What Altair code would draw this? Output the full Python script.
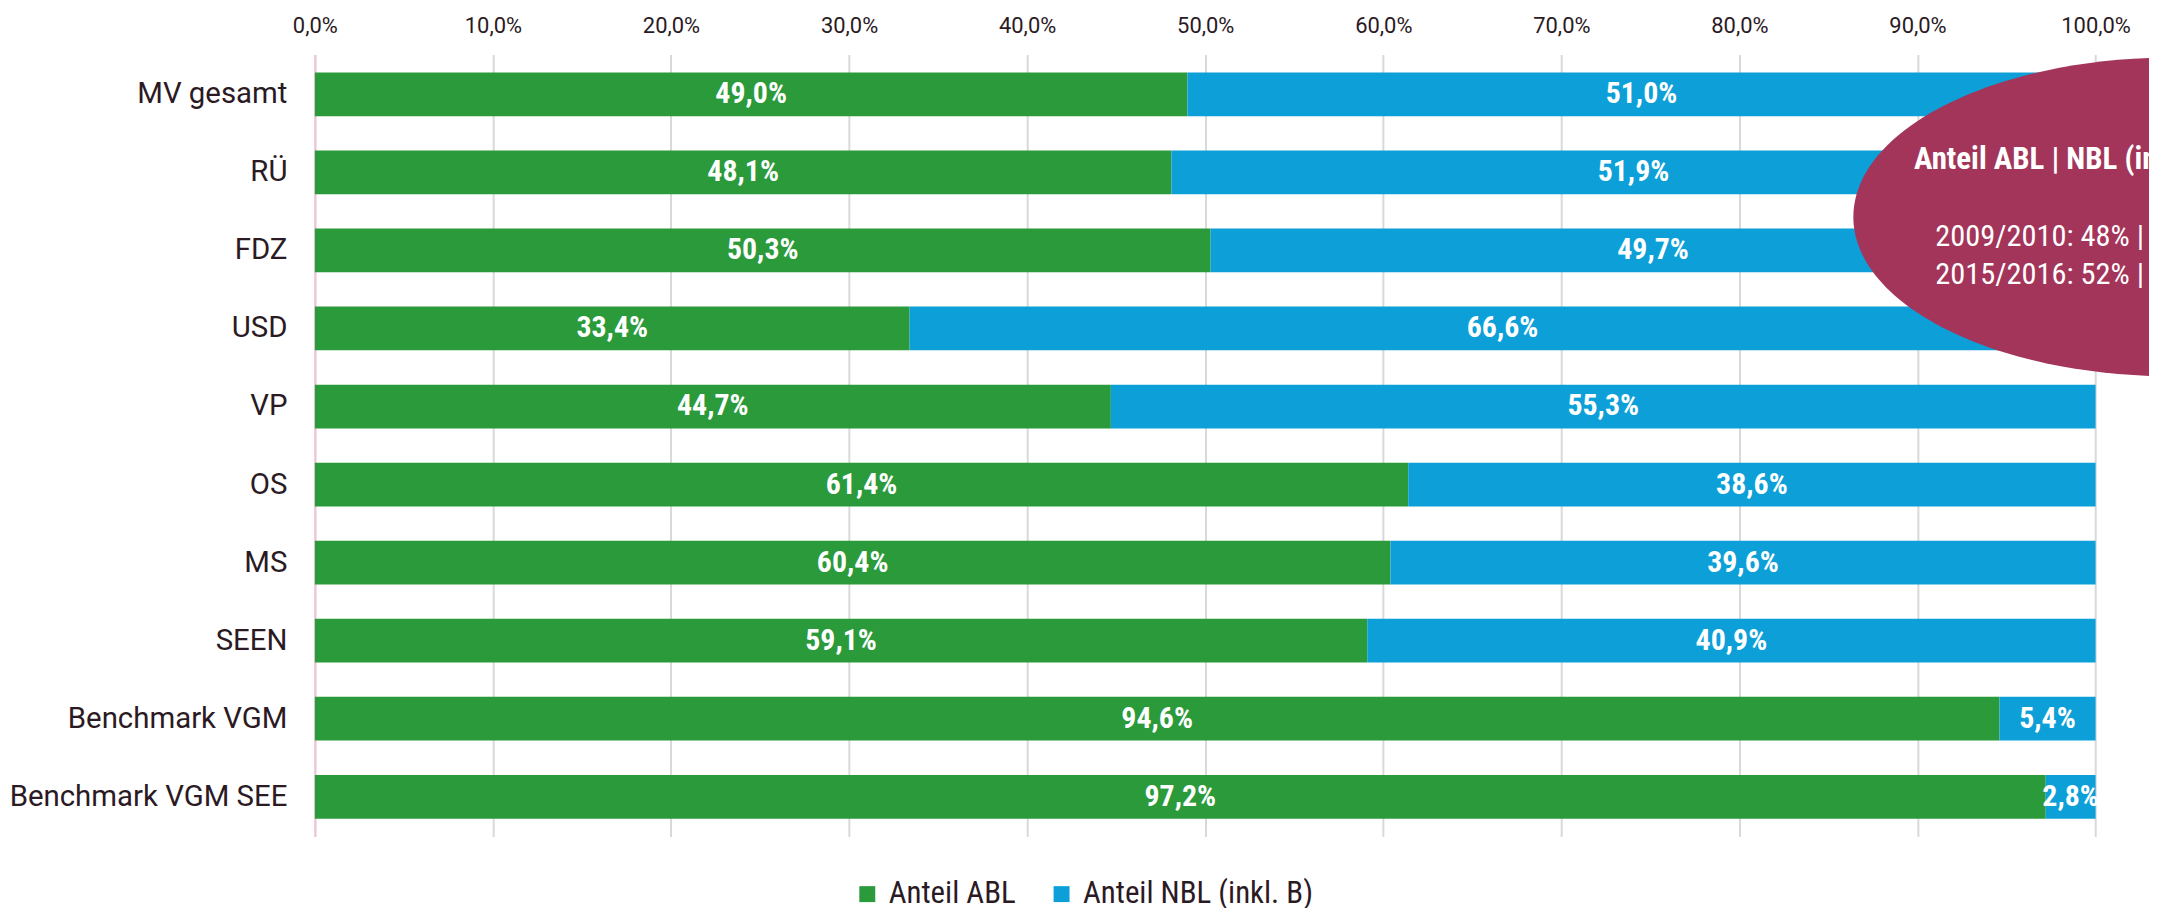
import altair as alt
import pandas as pd

categories = ["MV gesamt", "RÜ", "FDZ", "USD", "VP", "OS", "MS", "SEEN",
              "Benchmark VGM\u00a0", "Benchmark VGM SEE"]
abl = [49.0, 48.1, 50.3, 33.4, 44.7, 61.4, 60.4, 59.1, 94.6, 97.2]
nbl = [51.0, 51.9, 49.7, 66.6, 55.3, 38.6, 39.6, 40.9, 5.4, 2.8]
series = ["Anteil ABL", "Anteil NBL (inkl. B)"]
colors = ["#2a9a3b", "#0da0d8"]
ticks = [0, 10, 20, 30, 40, 50, 60, 70, 80, 90, 100]

note_title = "Anteil ABL | NBL (inkl. B)"
note_lines = ["2009/2010: 48% | 52%", "2015/2016: 52% | 48%"]

rows = []
for c, a, n in zip(categories, abl, nbl):
    rows.append({"cat": c, "series": series[0], "start": 0.0, "end": a,
                 "mid": a / 2, "label": f"{a:.1f}%".replace(".", ",")})
    rows.append({"cat": c, "series": series[1], "start": a, "end": a + n,
                 "mid": a + n / 2, "label": f"{n:.1f}%".replace(".", ",")})
df = pd.DataFrame(rows)

COND = "Roboto Condensed, Liberation Sans Narrow, DejaVu Sans Condensed, Roboto"
TXT = "#2b1a24"

xscale = alt.Scale(domain=[0, 103.0], nice=False, zero=True)
yscale = alt.Scale(domain=categories, paddingInner=0.44, paddingOuter=0.23)

x_axis = alt.Axis(orient="top", values=ticks, title=None, ticks=False, domain=False,
                  labelExpr="replace(format(datum.value, '.1f'), '.', ',') + '%'",
                  labelFontSize=22, labelColor=TXT, labelFont="Roboto",
                  labelFlush=False, labelPadding=17, grid=True,
                  gridColor="#d9d9d9", gridWidth=2)
y_axis = alt.Axis(title=None, ticks=False, domain=True, domainColor="#f2c4da",
                  domainWidth=2, labelFontSize=29.5, labelColor=TXT, labelFont="Roboto",
                  labelPadding=28, labelLimit=500, grid=False)

bars = alt.Chart(df).mark_bar().encode(
    y=alt.Y("cat:N", scale=yscale, axis=y_axis, sort=categories),
    x=alt.X("start:Q", scale=xscale, axis=x_axis),
    x2="end:Q",
    color=alt.Color("series:N", scale=alt.Scale(domain=series, range=colors),
                    legend=alt.Legend(orient="none", legendX=539, legendY=827,
                                      direction="horizontal", title=None,
                                      symbolType="square", symbolSize=256,
                                      symbolStrokeWidth=0, symbolOpacity=1,
                                      labelFontSize=31, labelFont=COND,
                                      labelColor=TXT, labelOffset=6,
                                      labelLimit=600, columnPadding=30)),
)

labels = alt.Chart(df).mark_text(color="white", font=COND, fontWeight="bold",
                                 fontSize=30, align="center", baseline="middle").encode(
    y=alt.Y("cat:N", scale=yscale, sort=categories),
    x=alt.X("mid:Q", scale=xscale),
    text="label:N",
)

ell_df = pd.DataFrame({"x": [104.3]})
ellipse = alt.Chart(ell_df).mark_point(
    filled=True, opacity=1, color="#a3355a", clip=True, size=409600,
    shape="M -1 0 A 1 0.5 0 1 1 1 0 A 1 0.5 0 1 1 -1 0 Z",
).encode(x=alt.X("x:Q", scale=xscale), y=alt.value(163))

t_df = pd.DataFrame({"x": [89.8], "t": [note_title]})
note_t = alt.Chart(t_df).mark_text(color="white", font=COND, fontWeight="bold",
                                   fontSize=31, align="left", baseline="middle",
                                   clip=True).encode(
    x=alt.X("x:Q", scale=xscale), y=alt.value(106), text="t:N")

l1_df = pd.DataFrame({"x": [91.0], "t": [note_lines[0]]})
l2_df = pd.DataFrame({"x": [91.0], "t": [note_lines[1]]})
note_l1 = alt.Chart(l1_df).mark_text(color="white", font=COND, fontSize=30.5,
                                     align="left", baseline="middle", clip=True).encode(
    x=alt.X("x:Q", scale=xscale), y=alt.value(183), text="t:N")
note_l2 = alt.Chart(l2_df).mark_text(color="white", font=COND, fontSize=30.5,
                                     align="left", baseline="middle", clip=True).encode(
    x=alt.X("x:Q", scale=xscale), y=alt.value(221), text="t:N")

chart = alt.layer(bars, labels, ellipse, note_t, note_l1, note_l2).properties(
    width=1841, height=785, background="white",
    autosize=alt.AutoSizeParams(type="none"),
    padding={"left": 308, "top": 45, "right": 0, "bottom": 70},
).configure_view(strokeWidth=0, strokeOpacity=0)

chart.save("out.html", embed_options={"renderer": "svg", "actions": False})
